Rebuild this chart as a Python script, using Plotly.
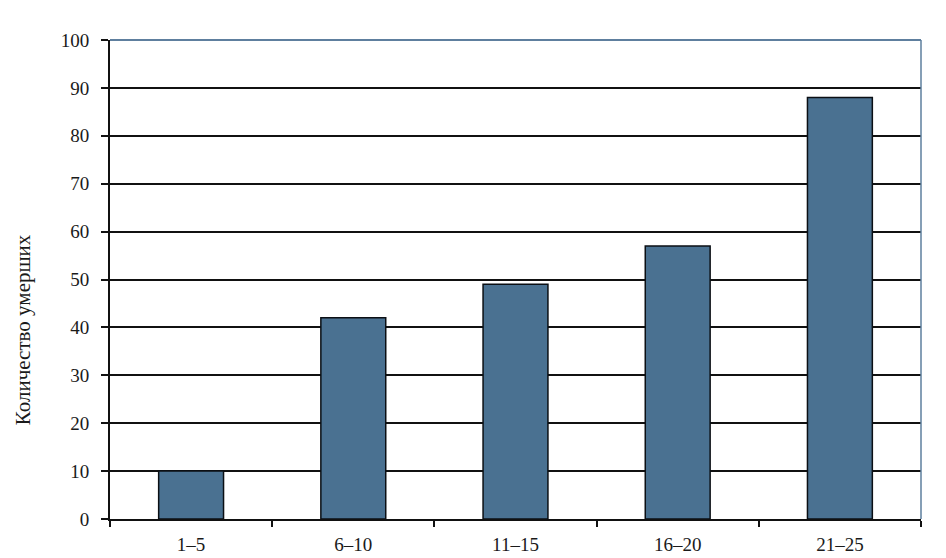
import plotly.graph_objects as go

categories = ["1–5", "6–10", "11–15", "16–20", "21–25"]
values = [10, 42, 49, 57, 88]
y_ticks = [0, 10, 20, 30, 40, 50, 60, 70, 80, 90, 100]
y_title = "Количество умерших"

fig = go.Figure()
fig.add_trace(go.Bar(
    x=categories, y=values, width=0.4,
    marker=dict(color="#4A7191", line=dict(color="#0B0F14", width=1.5)),
))

font = dict(family="Liberation Serif, Times New Roman, serif", size=19, color="#1a1a1a")
fig.update_layout(
    width=938, height=550,
    margin=dict(l=102, r=25, t=32, b=39),
    paper_bgcolor="white", plot_bgcolor="white",
    showlegend=False, bargap=0.6,
    font=font,
)
fig.update_xaxes(
    type="category", tickson="boundaries", ticks="outside", ticklen=6,
    tickwidth=2, tickcolor="#111", showline=True, linecolor="#111", linewidth=2,
    showgrid=False, tickfont=font, range=[-0.5, 4.5], ticklabelstandoff=7,
    automargin=False,
)
fig.update_yaxes(
    range=[0, 100], tickvals=y_ticks, ticks="outside", ticklen=7, tickwidth=2,
    tickcolor="#111", showline=True, linecolor="#111", linewidth=2,
    showgrid=True, gridcolor="#111", gridwidth=2, zeroline=False,
    tickfont=font, ticklabelstandoff=8, automargin=False,
)
# top and right border (blue-grey)
fig.add_shape(type="line", xref="paper", yref="paper", x0=0, x1=1, y0=1, y1=1,
              line=dict(color="#5E7F9E", width=2))
fig.add_shape(type="line", xref="paper", yref="paper", x0=1, x1=1, y0=0, y1=1,
              line=dict(color="#5E7F9E", width=1.5))
fig.add_annotation(text=y_title, xref="paper", yref="paper", x=-0.108, y=0.395,
                   textangle=-90, showarrow=False, xanchor="center", yanchor="middle",
                   font=dict(family="Liberation Serif, Times New Roman, serif", size=21, color="#1a1a1a"))
fig.write_html("out.html")
